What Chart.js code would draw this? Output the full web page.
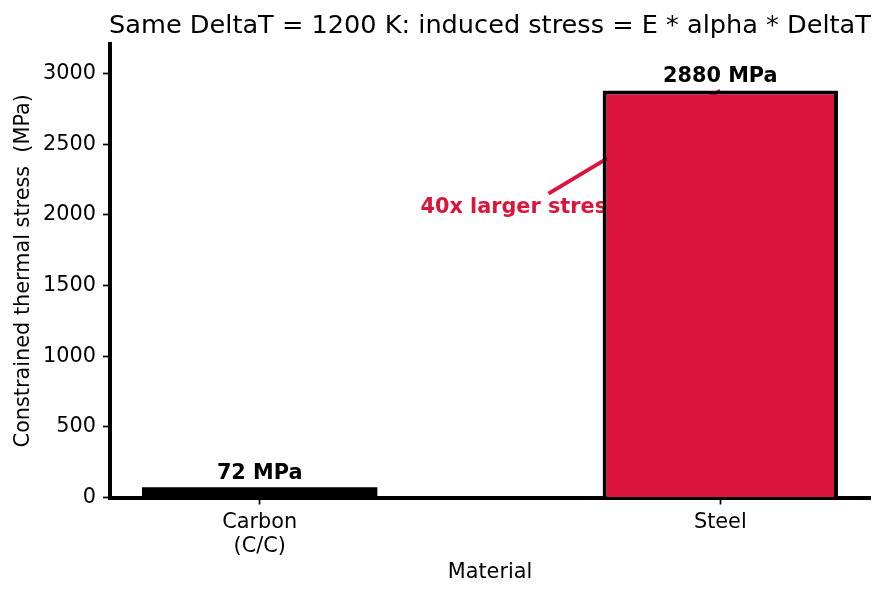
<!DOCTYPE html>
<html>
<head>
<meta charset="utf-8">
<script src="https://cdn.jsdelivr.net/npm/chart.js@4/dist/chart.umd.min.js"></script>
<style>
  html, body { margin: 0; padding: 0; background: #ffffff; }
  #wrap { width: 884px; height: 597px; }
</style>
</head>
<body>
<div id="wrap"><canvas id="c" width="884" height="597"></canvas></div>
<script>
// ---- data ----
const categories = ['Carbon\n(C/C)', 'Steel'];
const stressMPa = [72, 2880];
const valueLabels = ['72 MPa', '2880 MPa'];
const barColors = ['#000000', '#DC143C'];
const yTickValues = [0, 500, 1000, 1500, 2000, 2500, 3000];
const titleText = 'Same DeltaT = 1200 K: induced stress = E * alpha * DeltaT';
const annotationText = '40x larger stress';
const annotationTextPos = [0.565, 2050];
const annotationLineFrom = [0.627, 2151];
const annotationTarget = [1.0, 2880];

const FONT = "'DejaVu Sans', sans-serif";

const titlePlugin = {
  id: 'customTitle',
  afterDraw(chart) {
    const ctx = chart.ctx, a = chart.chartArea;
    ctx.save();
    ctx.font = '25.6px ' + FONT;
    ctx.fillStyle = '#000';
    ctx.textAlign = 'center';
    ctx.textBaseline = 'alphabetic';
    ctx.fillText(titleText, (a.left + a.right) / 2, 33);
    ctx.restore();
  }
};

const annotationPlugin = {
  id: 'annot',
  beforeDatasetsDraw(chart) {
    const ctx = chart.ctx, x = chart.scales.x, y = chart.scales.y;
    ctx.save();
    ctx.strokeStyle = '#DC143C';
    ctx.lineWidth = 4;
    ctx.lineCap = 'butt';
    ctx.beginPath();
    ctx.moveTo(x.getPixelForValue(annotationLineFrom[0]), y.getPixelForValue(annotationLineFrom[1]));
    ctx.lineTo(x.getPixelForValue(annotationTarget[0]), y.getPixelForValue(annotationTarget[1]));
    ctx.stroke();
    ctx.font = 'bold 20.8px ' + FONT;
    ctx.fillStyle = '#DC143C';
    ctx.textAlign = 'center';
    ctx.textBaseline = 'middle';
    ctx.fillText(annotationText, x.getPixelForValue(annotationTextPos[0]), y.getPixelForValue(annotationTextPos[1]));
    ctx.restore();
  },
  afterDatasetsDraw(chart) {
    const ctx = chart.ctx, x = chart.scales.x, y = chart.scales.y;
    ctx.save();
    ctx.font = 'bold 20.8px ' + FONT;
    ctx.fillStyle = '#000';
    ctx.textAlign = 'center';
    ctx.textBaseline = 'alphabetic';
    stressMPa.forEach((v, i) => {
      ctx.fillText(valueLabels[i], x.getPixelForValue(i), y.getPixelForValue(v + 60));
    });
    ctx.restore();
  }
};

new Chart(document.getElementById('c'), {
  type: 'bar',
  data: {
    datasets: [{
      data: stressMPa.map((v, i) => ({ x: i, y: v })),
      backgroundColor: barColors,
      borderColor: '#000000',
      borderWidth: [0, 4],
      borderSkipped: 'bottom',
      barPercentage: 0.511,
      categoryPercentage: 1.0
    }]
  },
  options: {
    responsive: false,
    animation: false,
    devicePixelRatio: 1,
    layout: { padding: { left: 0, right: 14, top: 44, bottom: 0 } },
    plugins: { legend: { display: false }, tooltip: { enabled: false }, title: { display: false } },
    scales: {
      x: {
        type: 'linear',
        offset: false,
        min: -0.325,
        max: 1.325,
        afterBuildTicks(s) { s.ticks = categories.map((_, i) => ({ value: i })); },
        afterFit(s) { s.height = 99.5; },
        ticks: {
          autoSkip: false,
          maxRotation: 0,
          color: '#000',
          padding: 6,
          font: { family: FONT, size: 20.8, lineHeight: 1.15 },
          callback: (v) => categories[v] !== undefined ? categories[v].split('\n') : ''
        },
        grid: { display: true, offset: false, drawOnChartArea: false, drawTicks: true, tickLength: 7, tickWidth: 1.7, tickColor: '#000' },
        border: { display: true, color: '#000', width: 4 },
        title: { display: true, text: 'Material', color: '#000', font: { family: FONT, size: 20.8 }, padding: { top: 0, bottom: 12 } }
      },
      y: {
        min: 0,
        max: 3210,
        afterBuildTicks(s) { s.ticks = yTickValues.map(v => ({ value: v })); },
        afterFit(s) { s.width = 110; },
        ticks: {
          color: '#000',
          padding: 7,
          font: { family: FONT, size: 20.8 },
          callback: (v) => String(v)
        },
        grid: { display: true, drawOnChartArea: false, drawTicks: true, tickLength: 7, tickWidth: 1.7, tickColor: '#000' },
        border: { display: true, color: '#000', width: 4 },
        title: { display: true, text: 'Constrained thermal stress  (MPa)', color: '#000', font: { family: FONT, size: 20.8 }, padding: { top: 11, bottom: 0 } }
      }
    }
  },
  plugins: [titlePlugin, annotationPlugin]
});
</script>
</body>
</html>
